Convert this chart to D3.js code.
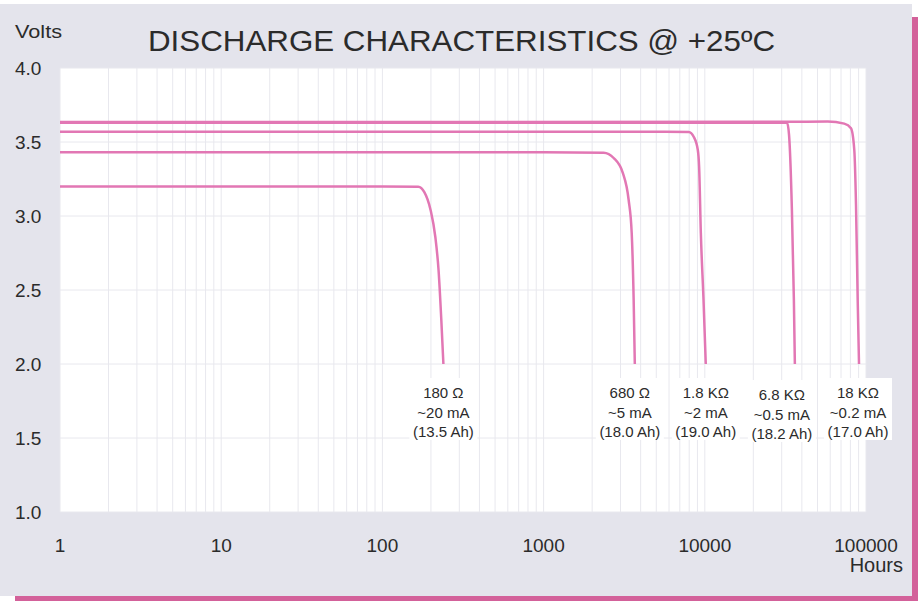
<!DOCTYPE html>
<html>
<head>
<meta charset="utf-8">
<script src="https://cdn.jsdelivr.net/npm/d3@7"></script>
<style>
  body { margin: 0; background: #fff; }
  text { font-family: "Liberation Sans", Arial, sans-serif; fill: #2b2b2b; }
</style>
</head>
<body>
<svg id="chart" width="919" height="603"></svg>
<script>
// data: [hours, volts]
var r180 = [[1, 3.20], [100, 3.20], [167, 3.198], [182, 3.162], [199, 3.041], [213, 2.858], [223, 2.635], [232, 2.297], [239, 2.0]];
var r680 = [[1, 3.43], [1000, 3.43], [2360, 3.428], [2720, 3.392], [3100, 3.291], [3370, 3.108], [3520, 2.885], [3620, 2.432], [3680, 2.0]];
var r1k8 = [[1, 3.57], [5000, 3.57], [7950, 3.568], [8550, 3.534], [9050, 3.446], [9220, 3.333], [9450, 2.885], [9820, 2.432], [10140, 2.0]];
var r6k8 = [[1, 3.63], [20000, 3.63], [32400, 3.63], [33300, 3.55], [34700, 3.04], [35700, 2.43], [36200, 2.0]];
var r18k = [[1, 3.635], [30000, 3.637], [57800, 3.638], [73300, 3.624], [80700, 3.593], [84600, 3.446], [86700, 3.074], [88800, 2.432], [90500, 2.0]];

var seriesList = [r180, r680, r1k8, r6k8, r18k];
var labelLines = [
  ['180 Ω', '~20 mA', '(13.5 Ah)'],
  ['680 Ω', '~5 mA', '(18.0 Ah)'],
  ['1.8 KΩ', '~2 mA', '(19.0 Ah)'],
  ['6.8 KΩ', '~0.5 mA', '(18.2 Ah)'],
  ['18 KΩ', '~0.2 mA', '(17.0 Ah)']
];

var hourTicks = [1, 10, 100, 1000, 10000, 100000];
var voltTicks = [1.0, 1.5, 2.0, 2.5, 3.0, 3.5, 4.0];

var svg = d3.select('#chart');
var curveColor = '#e277b4';

// pink shadow + panel
svg.append('rect').attr('x', 15).attr('y', 17).attr('width', 903).attr('height', 584).attr('fill', '#d3619a');
svg.append('rect').attr('x', 0).attr('y', 4).attr('width', 912).attr('height', 592).attr('fill', '#e4e4ec');

var x = d3.scaleLog().domain([1, 100000]).range([60, 866]);
var y = d3.scaleLinear().domain([1, 4]).range([512, 68]);

svg.append('rect')
  .attr('x', x.range()[0]).attr('y', y(4))
  .attr('width', x.range()[1] - x.range()[0])
  .attr('height', y(1) - y(4))
  .attr('fill', '#fff');

var grid = svg.append('g');
// vertical grid, log minor lines
grid.selectAll('line.v')
  .data(x.ticks())
  .enter()
  .append('line')
  .attr('class', 'v')
  .attr('x1', function(d) { return x(d); })
  .attr('x2', function(d) { return x(d); })
  .attr('y1', y(4))
  .attr('y2', y(1))
  .attr('stroke', '#e8e8ee')
  .attr('stroke-width', 1);

grid.selectAll('line.h')
  .data(voltTicks)
  .enter()
  .append('line')
  .attr('class', 'h')
  .attr('x1', x.range()[0])
  .attr('x2', x.range()[1])
  .attr('y1', function(d) { return y(d); })
  .attr('y2', function(d) { return y(d); })
  .attr('stroke', '#e8e8ee')
  .attr('stroke-width', 1);

// label backgrounds + texts
var labelDx = [0, -5, 0, -13, -1];
var labelDy = [0, 0, 0, 2, 0];
var labels = svg.append('g');
labelLines.forEach(function(lines, i) {
  var s = seriesList[i];
  var cx = x(s[s.length - 1][0]) + labelDx[i];
  var top = y(2) + 16 + labelDy[i];
  labels.append('rect')
    .attr('x', cx - 34).attr('y', top - 2)
    .attr('width', 68).attr('height', 62)
    .attr('fill', '#fff');
  lines.forEach(function(t, j) {
    labels.append('text')
      .attr('x', cx)
      .attr('y', top + 18 + j * 19.5)
      .attr('text-anchor', 'middle')
      .attr('font-size', '15px')
      .text(t);
  });
});

var line = d3.line()
  .x(function(d) { return x(d[0]); })
  .y(function(d) { return y(d[1]); })
  .curve(d3.curveMonotoneX);

svg.selectAll('path.curve')
  .data(seriesList)
  .enter()
  .append('path')
  .attr('class', 'curve')
  .attr('d', line)
  .attr('fill', 'none')
  .attr('stroke', curveColor)
  .attr('stroke-width', 2.5);

// axes labels
svg.selectAll('text.yt')
  .data(voltTicks)
  .enter()
  .append('text')
  .attr('class', 'yt')
  .attr('x', 15)
  .attr('y', function(d) { return y(d) + 7; })
  .attr('font-size', '19px')
  .text(function(d) { return d.toFixed(1); });

svg.selectAll('text.xt')
  .data(hourTicks)
  .enter()
  .append('text')
  .attr('class', 'xt')
  .attr('x', function(d) { return x(d); })
  .attr('y', 552)
  .attr('text-anchor', 'middle')
  .attr('font-size', '19px')
  .text(function(d) { return d; });

svg.append('text')
  .attr('x', 903).attr('y', 572)
  .attr('text-anchor', 'end')
  .attr('font-size', '20px')
  .text('Hours');

svg.append('text')
  .attr('x', 15).attr('y', 38)
  .attr('font-size', '19px')
  .attr('textLength', 47)
  .attr('lengthAdjust', 'spacingAndGlyphs')
  .text('Volts');

svg.append('text')
  .attr('x', 148).attr('y', 51)
  .attr('font-size', '29px')
  .attr('textLength', 627)
  .attr('lengthAdjust', 'spacingAndGlyphs')
  .attr('fill', '#333')
  .text('DISCHARGE CHARACTERISTICS @ +25ºC');
</script>
</body>
</html>
